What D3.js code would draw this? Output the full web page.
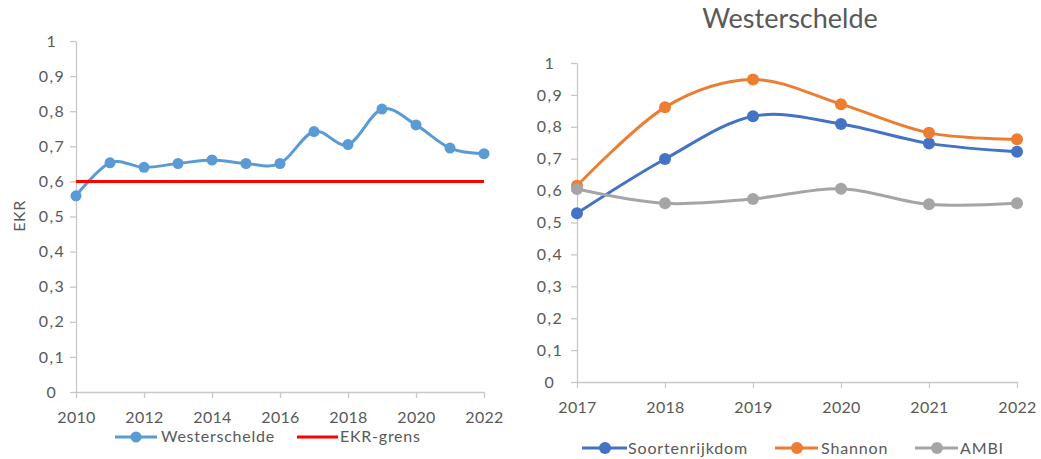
<!DOCTYPE html>
<html><head><meta charset="utf-8">
<script src="https://cdn.jsdelivr.net/npm/d3@7"></script>
<style>
html,body{margin:0;padding:0;background:#fff;}
svg{display:block;font-family:Lato,"Open Sans",sans-serif;}
</style></head>
<body>
<svg id="c" width="1041" height="459"></svg>
<script>
// ---- Data ----
const yearsLeft = [2010,2011,2012,2013,2014,2015,2016,2017,2018,2019,2020,2021,2022];
const westerschelde = [0.559,0.653,0.640,0.651,0.661,0.651,0.651,0.742,0.705,0.806,0.761,0.695,0.679];
const ekrYears = [2010,2022];
const ekrGrens = [0.6,0.6];
const leftXTicks = [2010,2012,2014,2016,2018,2020,2022];

const yearsRight = [2017,2018,2019,2020,2021,2022];
const soortenrijkdom = [0.529,0.699,0.833,0.809,0.748,0.722];
const shannon = [0.615,0.861,0.948,0.871,0.781,0.761];
const ambi = [0.605,0.560,0.574,0.606,0.557,0.560];

const yTicks = [0,0.1,0.2,0.3,0.4,0.5,0.6,0.7,0.8,0.9,1];
const fmt = v => String(+v.toFixed(1)).replace('.', ',');

const svg = d3.select('#c');
const axisColor = '#c8c8c8', textColor = '#595959';

function styleAxis(g){
  g.select('.domain').attr('stroke', axisColor).attr('stroke-width',1.3);
  g.selectAll('.tick line').attr('stroke', axisColor).attr('stroke-width',1.3);
  g.selectAll('.tick text').attr('fill', textColor).attr('font-size','16px').attr('font-family','Lato');
}

const curve = d3.curveCardinal.tension(0);

// ---- Left chart ----
{
  const x = d3.scaleLinear().domain([2010,2022]).range([76,484]);
  const y = d3.scaleLinear().domain([0,1]).range([392,41]);
  const gy = svg.append('g').attr('transform','translate(76,0)')
    .call(d3.axisLeft(y).tickValues(yTicks).tickFormat(fmt).tickSize(6).tickSizeOuter(0));
  styleAxis(gy);
  gy.selectAll('.tick text').attr('text-anchor','middle').attr('x',-24).attr('letter-spacing','1.5px');
  const gx = svg.append('g').attr('transform','translate(0,392)')
    .call(d3.axisBottom(x).tickValues(leftXTicks).tickFormat(d3.format('d')).tickSize(6).tickSizeOuter(0));
  styleAxis(gx);
  gx.selectAll('.tick text').attr('y',null).attr('dy',null).attr('transform','translate(0,31)').attr('letter-spacing','0.3px');

  const lw = d3.line().x((d,i)=>x(yearsLeft[i])).y(d=>y(d)).curve(curve);
  svg.append('path').attr('d', lw(westerschelde)).attr('fill','none').attr('stroke','#5B9BD5').attr('stroke-width',3).attr('stroke-linecap','round');
  svg.append('g').selectAll('circle').data(westerschelde).join('circle')
    .attr('cx',(d,i)=>x(yearsLeft[i])).attr('cy',d=>y(d)).attr('r',5.5).attr('fill','#5B9BD5');
  const le = d3.line().x((d,i)=>x(ekrYears[i])).y(d=>y(d));
  svg.append('path').attr('d', le(ekrGrens)).attr('fill','none').attr('stroke','#FF0000').attr('stroke-width',3);

  svg.append('text').attr('transform','translate(25,216) rotate(-90)').attr('text-anchor','middle')
    .attr('fill',textColor).attr('font-size','16px').attr('letter-spacing','0.5px').text('EKR');

  // legend
  const lg = svg.append('g');
  lg.append('line').attr('x1',115).attr('x2',157).attr('y1',437).attr('y2',437).attr('stroke','#5B9BD5').attr('stroke-width',3);
  lg.append('circle').attr('cx',136).attr('cy',437).attr('r',5.5).attr('fill','#5B9BD5');
  lg.append('text').attr('x',161).attr('y',442).attr('fill',textColor).attr('font-size','16px').attr('letter-spacing','0.75px').text('Westerschelde');
  lg.append('line').attr('x1',297).attr('x2',338).attr('y1',437).attr('y2',437).attr('stroke','#FF0000').attr('stroke-width',3);
  lg.append('text').attr('x',340).attr('y',442).attr('fill',textColor).attr('font-size','16px').attr('letter-spacing','0.75px').text('EKR-grens');
}

// ---- Right chart ----
{
  const x = d3.scaleLinear().domain([2017,2022]).range([577,1017]);
  const y = d3.scaleLinear().domain([0,1]).range([382,63]);
  const gy = svg.append('g').attr('transform','translate(577,0)')
    .call(d3.axisLeft(y).tickValues(yTicks).tickFormat(fmt).tickSize(6).tickSizeOuter(0));
  styleAxis(gy);
  gy.selectAll('.tick text').attr('text-anchor','middle').attr('x',-27).attr('letter-spacing','1.5px');
  const gx = svg.append('g').attr('transform','translate(0,382)')
    .call(d3.axisBottom(x).tickValues(yearsRight).tickFormat(d3.format('d')).tickSize(6).tickSizeOuter(0));
  styleAxis(gx);
  gx.selectAll('.tick text').attr('y',null).attr('dy',null).attr('transform','translate(0,31)').attr('letter-spacing','0.3px');

  svg.append('text').attr('x',790).attr('y',28).attr('text-anchor','middle').attr('fill',textColor)
    .attr('font-size','27px').text('Westerschelde');

  const series = [
    {name:'Soortenrijkdom', values:soortenrijkdom, color:'#4472C4'},
    {name:'Shannon', values:shannon, color:'#ED7D31'},
    {name:'AMBI', values:ambi, color:'#A5A5A5'}
  ];
  const ln = d3.line().x((d,i)=>x(yearsRight[i])).y(d=>y(d)).curve(curve);
  series.forEach(s=>{
    svg.append('path').attr('d', ln(s.values)).attr('fill','none').attr('stroke',s.color).attr('stroke-width',3).attr('stroke-linecap','round');
    svg.append('g').selectAll('circle').data(s.values).join('circle')
      .attr('cx',(d,i)=>x(yearsRight[i])).attr('cy',d=>y(d)).attr('r',6).attr('fill',s.color);
  });

  const legX = [[582,627,605,628],[775,818,797,821],[915,958,937,960]];
  series.forEach((s,i)=>{
    const [a,b,c,t] = legX[i];
    svg.append('line').attr('x1',a).attr('x2',b).attr('y1',448).attr('y2',448).attr('stroke',s.color).attr('stroke-width',3);
    svg.append('circle').attr('cx',c).attr('cy',448).attr('r',6).attr('fill',s.color);
    svg.append('text').attr('x',t).attr('y',454).attr('fill',textColor).attr('font-size','16px').attr('letter-spacing','0.85px').text(s.name);
  });
}
</script>
</body></html>
